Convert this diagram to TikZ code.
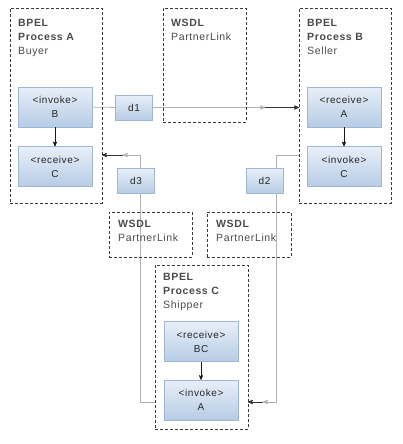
\documentclass[tikz,border=0pt]{standalone}
\usepackage{fontspec}
\setmainfont{Liberation Sans}
\newfontfamily\widesans[LetterSpace=6]{Liberation Sans}
\usetikzlibrary{arrows,positioning,backgrounds}
\definecolor{dashgray}{HTML}{3A3A3A}
\definecolor{linkgray}{HTML}{B2B2B2}
\definecolor{boxline}{HTML}{9DB6D2}
\definecolor{boxtop}{HTML}{E8EFF8}
\definecolor{boxbot}{HTML}{B6CCE5}
\definecolor{labgray}{HTML}{4A4A4A}
\tikzset{
    %Define standard arrow tip
    >=stealth',
    %Define style for dashed containers
    frame/.style={
           rectangle,
           draw=dashgray, line width=0.7pt,
           dash pattern=on 3pt off 2pt,
           anchor=north west,
           inner sep=0pt, outer sep=0pt},
    %Define style for container titles
    title/.style={
           inner sep=0pt,
           align=left,
           text=labgray,
           font=\widesans\fontsize{10.5}{14}\selectfont},
    %Define style for activity boxes
    act/.style={
           rectangle,
           draw=boxline, line width=0.6pt,
           top color=boxtop, bottom color=boxbot,
           minimum width=74pt,
           minimum height=40pt,
           align=center,
           text=black!85,
           font=\widesans\fontsize{10}{14}\selectfont},
    %Define style for data boxes
    data/.style={
           act,
           minimum width=37pt,
           minimum height=25pt},
    % Define arrow styles
    flow/.style={
           ->,
           line width=0.7pt,
           draw=black!90},
    link/.style={
           line width=0.8pt,
           draw=linkgray},
    hand/.style={
           ->,
           line width=0.8pt,
           draw=black!80}
}
\begin{document}
\begin{tikzpicture}[x=1pt, y=-1pt]
 \useasboundingbox (0,0) rectangle (402,444);
 %containers
    \node[frame, minimum width=92pt, minimum height=195pt] at (10,8) (procA) {};
    \node[frame, minimum width=83pt, minimum height=114pt] at (163,8) (wsdlT) {};
    \node[frame, minimum width=92pt, minimum height=195pt] at (299,8) (procB) {};
    \node[frame, minimum width=83pt, minimum height=45pt] at (109,212) (wsdlL) {};
    \node[frame, minimum width=84pt, minimum height=45pt] at (207,212) (wsdlR) {};
    \node[frame, minimum width=93pt, minimum height=164pt] at (155,265) (procC) {};
 %titles
    \node[title, below right=11pt and 8pt of procA.north west] (tA) {\textbf{BPEL}\\\textbf{Process A}\\Buyer};
    \node[title, below right=11pt and 8pt of wsdlT.north west] (tT) {\textbf{WSDL}\\PartnerLink};
    \node[title, below right=11pt and 8pt of procB.north west] (tB) {\textbf{BPEL}\\\textbf{Process B}\\Seller};
    \node[title, below right=8pt and 9pt of wsdlL.north west] (tL) {\textbf{WSDL}\\PartnerLink};
    \node[title, below right=8pt and 9pt of wsdlR.north west] (tR) {\textbf{WSDL}\\PartnerLink};
    \node[title, below right=8pt and 8pt of procC.north west] (tC) {\textbf{BPEL}\\\textbf{Process C}\\Shipper};
 %activities
    \node[act] at (55,107) (invB) {<invoke>\\B};
    \node[act, below=19pt of invB] (recC) {<receive>\\C};
    \node[act] at (344,107) (recA) {<receive>\\A};
    \node[act, below=19pt of recA] (invC) {<invoke>\\C};
    \node[act] at (201,341.5) (recBC) {<receive>\\BC};
    \node[act, below=18pt of recBC] (invA) {<invoke>\\A};
 %data
    \node[data] at (134,107.5) (d1) {d1};
    \node[data] at (136,181) (d3) {d3};
    \node[data] at (264.5,181) (d2) {d2};
 %edges
    \draw[flow] (invB) -- (recC);
    \draw[flow] (recA) -- (invC);
    \draw[flow] (recBC) -- (invA);
    \coordinate (g1) at (265,107.5);
    \coordinate (r3) at (140,155);
    \coordinate (g3) at (123,155);
    \coordinate (r2) at (276,155);
    \coordinate (g2) at (263,402);
    \begin{pgfonlayer}{background}
    \draw[link] (invB) -- (d1);
    \draw[link,->] (d1) -- (g1);
    \draw[link,->] (procC.west |- g2) -| (r3) -- (g3);
    \draw[link,->] (procB.west |- r2) -- (r2) |- (g2);
    \end{pgfonlayer}
    \draw[hand] (g1) -- (g1 -| procB.west);
    \draw[hand] (g3) -- (g3 -| procA.east);
    \draw[hand] (g2) -- (g2 -| procC.east);
\end{tikzpicture}
\end{document}
